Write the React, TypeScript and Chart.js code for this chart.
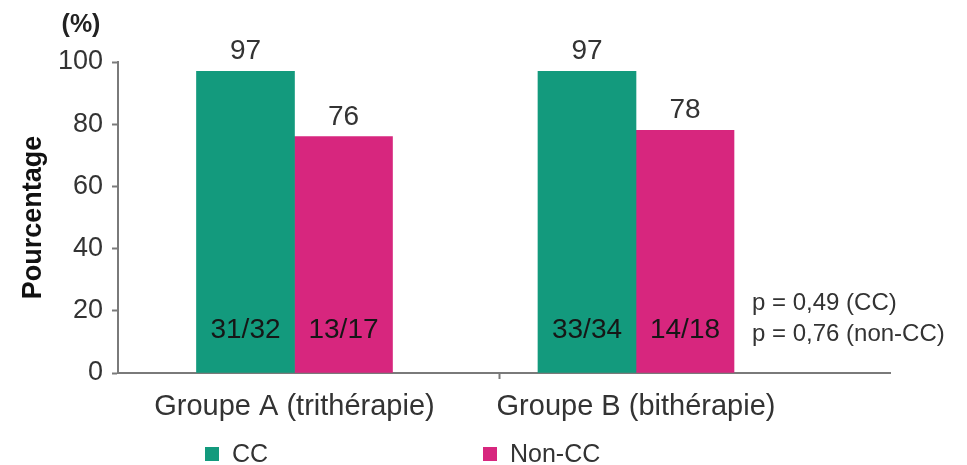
import { useEffect, useRef } from "react";
import { Chart, registerables } from "chart.js";

Chart.register(...registerables);

// Groups on the x axis, placed at numeric positions on a linear scale
const groups = ["Groupe A (trithérapie)", "Groupe B (bithérapie)"];
const groupPositions = [1, 2];
const groupDivider = 1.6;

// Series
const seriesNames = ["CC", "Non-CC"];
const ccValues = [97, 97];
const nonCcValues = [76, 78];
const ccCounts = ["31/32", "33/34"];
const nonCcCounts = ["13/17", "14/18"];

// Axis ticks and notes
const yTicks = [0, 20, 40, 60, 80, 100];
const pValueNotes = ["p = 0,49 (CC)", "p = 0,76 (non-CC)"];

const FONT = '"Liberation Sans", Arial, Helvetica, sans-serif';
const GREEN = "#139a7d";
const MAGENTA = "#d7267e";
const AXIS = "#7a7a7a";
const TEXT = "#333333";

const annotate = {
  id: "annotate",
  afterDatasetsDraw(chart: any) {
    const ctx = chart.ctx as CanvasRenderingContext2D;
    const y0 = chart.scales.y.getPixelForValue(0);
    const counts = [ccCounts, nonCcCounts];
    ctx.save();
    ctx.textAlign = "center";
    ctx.textBaseline = "alphabetic";

    // value above each bar, count inside near the base
    chart.data.datasets.forEach((ds: any, di: number) => {
      const meta = chart.getDatasetMeta(di);
      meta.data.forEach((bar: any, i: number) => {
        ctx.font = `28px ${FONT}`;
        ctx.fillStyle = TEXT;
        ctx.fillText(String(ds.data[i].y), bar.x, bar.y - 12);
        ctx.fillStyle = "#161616";
        ctx.fillText(counts[di][i], bar.x, y0 - 35);
      });
    });

    // p-values to the right of the bars
    ctx.textAlign = "left";
    ctx.font = `24px ${FONT}`;
    ctx.fillStyle = TEXT;
    pValueNotes.forEach((t, i) => ctx.fillText(t, 752, 310 + i * 31));

    // unit above the y axis
    ctx.textAlign = "center";
    ctx.textBaseline = "middle";
    ctx.font = `bold 25px ${FONT}`;
    ctx.fillStyle = "#222";
    ctx.fillText("(%)", 81, 25);

    // legend
    const legendX = [205, 483];
    ctx.textAlign = "left";
    ctx.textBaseline = "alphabetic";
    ctx.font = `25px ${FONT}`;
    chart.data.datasets.forEach((ds: any, di: number) => {
      const x = legendX[di];
      ctx.fillStyle = ds.backgroundColor;
      ctx.fillRect(x, 447, 14, 14);
      ctx.fillStyle = TEXT;
      ctx.fillText(ds.label, x + 27, 462);
    });
    ctx.restore();
  },
};

export default function App() {
  const canvasRef = useRef<HTMLCanvasElement | null>(null);

  useEffect(() => {
    if (!canvasRef.current) return;
    const chart = new Chart(canvasRef.current, {
      type: "bar",
      data: {
        datasets: [
          {
            label: seriesNames[0],
            data: groupPositions.map((x, i) => ({ x, y: ccValues[i] })),
            backgroundColor: GREEN,
            barThickness: 98,
          },
          {
            label: seriesNames[1],
            data: groupPositions.map((x, i) => ({ x, y: nonCcValues[i] })),
            backgroundColor: MAGENTA,
            barThickness: 98,
          },
        ],
      },
      options: {
        animation: false,
        responsive: false,
        layout: { padding: { top: 62, right: 77, left: 0, bottom: 0 } },
        plugins: {
          legend: { display: false },
          tooltip: { enabled: false },
        },
        scales: {
          x: {
            type: "linear",
            offset: false,
            min: 0.4832,
            max: 2.7438,
            afterBuildTicks: (scale: any) => {
              scale.ticks = [groupPositions[0], groupDivider, groupPositions[1]].map((v) => ({ value: v }));
            },
            afterFit: (scale: any) => {
              scale.height = 92;
            },
            ticks: {
              autoSkip: false,
              maxRotation: 0,
              minRotation: 0,
              padding: 11,
              color: TEXT,
              font: { family: FONT, size: 29 },
              callback: (value: any) => {
                const i = groupPositions.indexOf(Number(value));
                return i >= 0 ? groups[i] : "";
              },
            },
            grid: {
              offset: false,
              drawOnChartArea: false,
              tickLength: 6,
              tickWidth: 2,
              tickColor: (c: any) => (c.tick && c.tick.value === groupDivider ? AXIS : "transparent"),
            },
            border: { display: true, color: AXIS, width: 2 },
          },
          y: {
            min: 0,
            max: 100,
            afterBuildTicks: (scale: any) => {
              scale.ticks = yTicks.map((v) => ({ value: v }));
            },
            afterFit: (scale: any) => {
              scale.width = 118;
            },
            ticks: {
              padding: 9,
              color: TEXT,
              font: { family: FONT, size: 27 },
            },
            grid: {
              drawOnChartArea: false,
              tickLength: 6,
              tickWidth: 2,
              tickColor: AXIS,
            },
            border: { display: true, color: AXIS, width: 2 },
            title: {
              display: true,
              text: "Pourcentage",
              color: "#111",
              font: { family: FONT, size: 27, weight: "bold" },
              padding: { top: 17, bottom: 0 },
            },
          },
        },
      },
      plugins: [annotate],
    } as any);
    return () => chart.destroy();
  }, []);

  return (
    <div style={{ position: "fixed", left: 0, top: 0, width: 967, height: 465, background: "#fff" }}>
      <canvas ref={canvasRef} width={967} height={465} style={{ display: "block" }} />
    </div>
  );
}
